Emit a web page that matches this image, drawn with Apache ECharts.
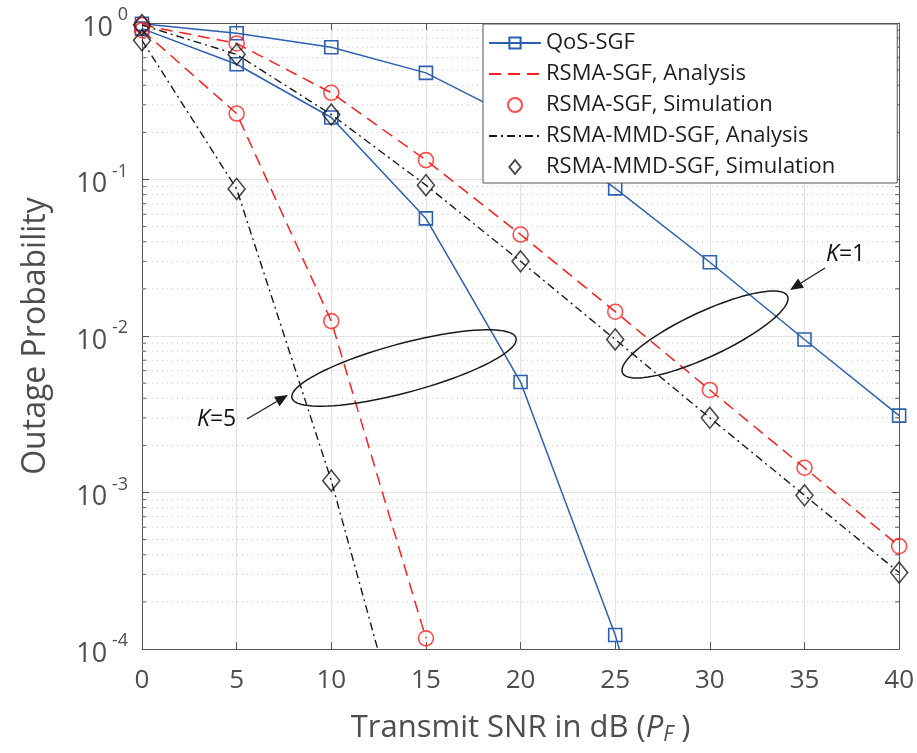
<!DOCTYPE html>
<html>
<head>
<meta charset="UTF-8">
<title>Outage Probability</title>
<script src="https://cdn.jsdelivr.net/npm/echarts@6/dist/echarts.min.js"></script>
<style>
  html, body { margin: 0; padding: 0; background: #fff; }
  #main { width: 917px; height: 753px; }
</style>
</head>
<body>
<div id="main"></div>
<script>
// transmit SNR (dB)
var snr = [0, 5, 10, 15, 20, 25, 30, 35, 40];

// QoS-SGF
var qosK1 = [0.99, 0.86, 0.70, 0.48, 0.237, 0.0877, 0.0296, 0.0095, 0.0031];
var qosK5 = [0.92, 0.545, 0.249, 0.0564, 0.00508, 0.000123, 0.000001];

// RSMA-SGF (analysis line and simulation marks)
var rsmaK1 = [0.97, 0.74, 0.358, 0.133, 0.0445, 0.0143, 0.00452, 0.00144, 0.000454];
var rsmaK5 = [0.90, 0.264, 0.01245, 0.000117];
var rsmaSimK1 = [0.97, 0.74, 0.358, 0.133, 0.0445, 0.0143, 0.00452, 0.00144, 0.000454];
var rsmaSimK5 = [0.90, 0.264, 0.01245, 0.000117];

// RSMA-MMD-SGF (analysis line and simulation marks)
var mmdK1 = [0.97, 0.63, 0.26, 0.092, 0.030, 0.0095, 0.0030, 0.00096, 0.000308];
var mmdK5 = [0.775, 0.087, 0.00119, 0.0000076];
var mmdSimK1 = [0.97, 0.63, 0.26, 0.092, 0.030, 0.0095, 0.0030, 0.00096, 0.000308];
var mmdSimK5 = [0.775, 0.087, 0.00119];

var legendNames = ['QoS-SGF', 'RSMA-SGF, Analysis', 'RSMA-SGF, Simulation',
  'RSMA-MMD-SGF, Analysis', 'RSMA-MMD-SGF, Simulation'];

var BLUE = '#2b5fb3', RED = '#ff1f1f', BLACK = '#1a1a1a';
var FONT = '"Open Sans", "Noto Sans", sans-serif';
var DIAMOND = 'path://M0,-10L8,0L0,10L-8,0Z';

function pairs(vals) {
  return vals.map(function (v, i) { return [snr[i], v]; });
}

// minor log ticks 2..9 x 10^k
var minorVals = [];
for (var k = -4; k < 0; k++) {
  for (var m = 2; m <= 9; m++) minorVals.push([0, m * Math.pow(10, k)]);
}

function ellipsePts(cx, cy, a, b, deg) {
  var t = -deg * Math.PI / 180, pts = [];
  for (var i = 0; i <= 90; i++) {
    var u = i / 90 * Math.PI * 2;
    var x = a * Math.cos(u), y = b * Math.sin(u);
    pts.push([cx + x * Math.cos(t) - y * Math.sin(t), cy + x * Math.sin(t) + y * Math.cos(t)]);
  }
  return pts;
}

function arrow(x1, y1, x2, y2) {
  var dx = x2 - x1, dy = y2 - y1, len = Math.sqrt(dx * dx + dy * dy);
  var ux = dx / len, uy = dy / len, hl = 13, hw = 5.5;
  var bx = x2 - ux * hl, by = y2 - uy * hl;
  return [
    { type: 'line', shape: { x1: x1, y1: y1, x2: bx, y2: by }, style: { stroke: BLACK, lineWidth: 1.2 }, z: 20 },
    { type: 'polygon', shape: { points: [[x2, y2], [bx - uy * hw, by + ux * hw], [bx + uy * hw, by - ux * hw]] },
      style: { fill: BLACK }, z: 20 }
  ];
}

var tickLabel = {
  fontFamily: FONT, fontSize: 26, color: '#4d4d4d'
};

var lineBase = { type: 'line', symbol: 'none', smooth: false, animation: false, z: 3 };

var option = {
  animation: false,
  backgroundColor: '#fff',
  textStyle: { fontFamily: FONT },
  grid: { left: 142, right: 15, top: 23, bottom: 104, containLabel: false },
  legend: {
    data: [
      { name: legendNames[0] },
      { name: legendNames[1], itemStyle: { opacity: 0 } },
      { name: legendNames[2] },
      { name: legendNames[3], itemStyle: { opacity: 0 } },
      { name: legendNames[4], icon: DIAMOND }
    ],
    orient: 'vertical',
    left: 483, top: 24,
    width: 413,
    padding: [8, 62, 5, 5],
    itemWidth: 52, itemHeight: 14, itemGap: 9,
    symbolKeepAspect: true,
    backgroundColor: '#fff',
    borderColor: '#555', borderWidth: 1,
    textStyle: { fontFamily: FONT, fontSize: 22, color: '#1e1e1e' },
    selectedMode: false,
    z: 10
  },
  xAxis: [{
    type: 'value', min: 0, max: 40, interval: 5,
    name: '{n|Transmit SNR in dB (}{i|P}{sub|F}{n| )}',
    nameLocation: 'middle', nameGap: 62,
    nameTextStyle: {
      rich: {
        n: { fontFamily: FONT, fontSize: 31, color: '#4d4d4d' },
        i: { fontFamily: FONT, fontSize: 31, fontStyle: 'italic', color: '#4d4d4d' },
        sub: { fontFamily: FONT, fontSize: 21, fontStyle: 'italic', color: '#4d4d4d', padding: [14, 0, 0, 0] }
      }
    },
    axisLine: { show: true, onZero: false, lineStyle: { color: '#555', width: 1 } },
    axisTick: { inside: true, length: 7, lineStyle: { color: '#555' } },
    axisLabel: Object.assign({ margin: 19 }, tickLabel),
    splitLine: { show: true, lineStyle: { color: '#e2e2e2', width: 1 } }
  }, {
    type: 'value', min: 0, max: 40, interval: 5, position: 'top',
    axisLine: { show: true, onZero: false, lineStyle: { color: '#555', width: 1 } },
    axisTick: { inside: true, length: 7, lineStyle: { color: '#555' } },
    axisLabel: { show: false }, splitLine: { show: false }
  }],
  yAxis: [{
    type: 'log', logBase: 10, min: 1e-4, max: 1,
    name: 'Outage Probability',
    nameLocation: 'middle', nameGap: 90,
    nameTextStyle: { fontFamily: FONT, fontSize: 32, color: '#4d4d4d' },
    axisLine: { show: true, onZero: false, lineStyle: { color: '#555', width: 1 } },
    axisTick: { inside: true, length: 7, lineStyle: { color: '#555' } },
    axisLabel: {
      margin: 14,
      formatter: function (v) {
        var e = Math.round(Math.log10(v));
        return '{b|10}{s| ' + e + '}';
      },
      rich: {
        b: { fontFamily: FONT, fontSize: 27, color: '#4d4d4d', padding: [10, 0, 0, 0] },
        s: { fontFamily: FONT, fontSize: 18, color: '#4d4d4d', padding: [0, 0, 16, 0] }
      }
    },
    splitLine: { show: true, lineStyle: { color: '#e2e2e2', width: 1 } }
  }, {
    type: 'log', logBase: 10, min: 1e-4, max: 1, position: 'right',
    axisLine: { show: true, onZero: false, lineStyle: { color: '#555', width: 1 } },
    axisTick: { inside: true, length: 7, lineStyle: { color: '#555' } },
    axisLabel: { show: false }, splitLine: { show: false }
  }],
  series: [
    {
      // minor dotted grid lines and minor ticks
      type: 'custom', silent: true, z: 1, animation: false,
      data: minorVals,
      renderItem: function (params, api) {
        var y = api.coord([0, api.value(1)])[1];
        var cs = params.coordSys;
        var x0 = cs.x, x1 = cs.x + cs.width;
        return {
          type: 'group',
          children: [
            { type: 'line', shape: { x1: x0, y1: y, x2: x1, y2: y },
              style: { stroke: '#c4c4c4', lineWidth: 1, lineDash: [1, 4] } },
            { type: 'line', shape: { x1: x0, y1: y, x2: x0 + 4, y2: y }, style: { stroke: '#555', lineWidth: 1 } },
            { type: 'line', shape: { x1: x1, y1: y, x2: x1 - 4, y2: y }, style: { stroke: '#555', lineWidth: 1 } }
          ]
        };
      }
    },
    Object.assign({}, lineBase, {
      name: 'QoS-SGF', data: pairs(qosK1),
      symbol: 'rect', symbolSize: 13, showSymbol: true,
      lineStyle: { color: BLUE, width: 1.5 },
      itemStyle: { color: 'rgba(0,0,0,0)', borderColor: BLUE, borderWidth: 1.6 }
    }),
    Object.assign({}, lineBase, {
      name: 'QoS-SGF', data: pairs(qosK5),
      symbol: 'rect', symbolSize: 13, showSymbol: true,
      lineStyle: { color: BLUE, width: 1.5 },
      itemStyle: { color: 'rgba(0,0,0,0)', borderColor: BLUE, borderWidth: 1.6 }
    }),
    Object.assign({}, lineBase, {
      name: 'RSMA-SGF, Analysis', data: pairs(rsmaK1),
      lineStyle: { color: RED, width: 1.5, type: [12, 7] },
      itemStyle: { color: RED }
    }),
    Object.assign({}, lineBase, {
      name: 'RSMA-SGF, Analysis', data: pairs(rsmaK5),
      lineStyle: { color: RED, width: 1.5, type: [12, 7] },
      itemStyle: { color: RED }
    }),
    {
      type: 'scatter', name: 'RSMA-SGF, Simulation', z: 4,
      data: pairs(rsmaSimK1).concat(pairs(rsmaSimK5)),
      symbol: 'circle', symbolSize: 15,
      itemStyle: { color: 'rgba(0,0,0,0)', borderColor: RED, borderWidth: 1.6 }
    },
    Object.assign({}, lineBase, {
      name: 'RSMA-MMD-SGF, Analysis', data: pairs(mmdK1),
      lineStyle: { color: BLACK, width: 1.4, type: [8, 4, 2, 4] },
      itemStyle: { color: BLACK }
    }),
    Object.assign({}, lineBase, {
      name: 'RSMA-MMD-SGF, Analysis', data: pairs(mmdK5),
      lineStyle: { color: BLACK, width: 1.4, type: [8, 4, 2, 4] },
      itemStyle: { color: BLACK }
    }),
    {
      type: 'scatter', name: 'RSMA-MMD-SGF, Simulation', z: 4,
      data: pairs(mmdSimK1).concat(pairs(mmdSimK5)),
      symbol: 'diamond', symbolSize: [17, 21],
      itemStyle: { color: 'rgba(0,0,0,0)', borderColor: BLACK, borderWidth: 1.6 }
    }
  ],
  graphic: [
    { type: 'polyline', shape: { points: ellipsePts(705, 334.5, 91, 22.5, 25) },
      style: { stroke: BLACK, lineWidth: 1.5, fill: null }, z: 20 },
    { type: 'polyline', shape: { points: ellipsePts(404, 368, 116, 24.5, 15) },
      style: { stroke: BLACK, lineWidth: 1.5, fill: null }, z: 20 }
  ].concat(arrow(825, 268, 790, 290)).concat(arrow(247, 419, 288, 395)).concat([
    { type: 'text', left: 826, top: 243, z: 20,
      style: { text: '{i|K}{n|=1}', rich: {
        i: { fontFamily: FONT, fontSize: 23, fontStyle: 'italic', fill: '#111' },
        n: { fontFamily: FONT, fontSize: 23, fill: '#111' } } } },
    { type: 'text', left: 197, top: 408, z: 20,
      style: { text: '{i|K}{n|=5}', rich: {
        i: { fontFamily: FONT, fontSize: 23, fontStyle: 'italic', fill: '#111' },
        n: { fontFamily: FONT, fontSize: 23, fill: '#111' } } } }
  ])
};

var chart = echarts.init(document.getElementById('main'), null, { renderer: 'canvas' });
chart.setOption(option);
</script>
</body>
</html>
